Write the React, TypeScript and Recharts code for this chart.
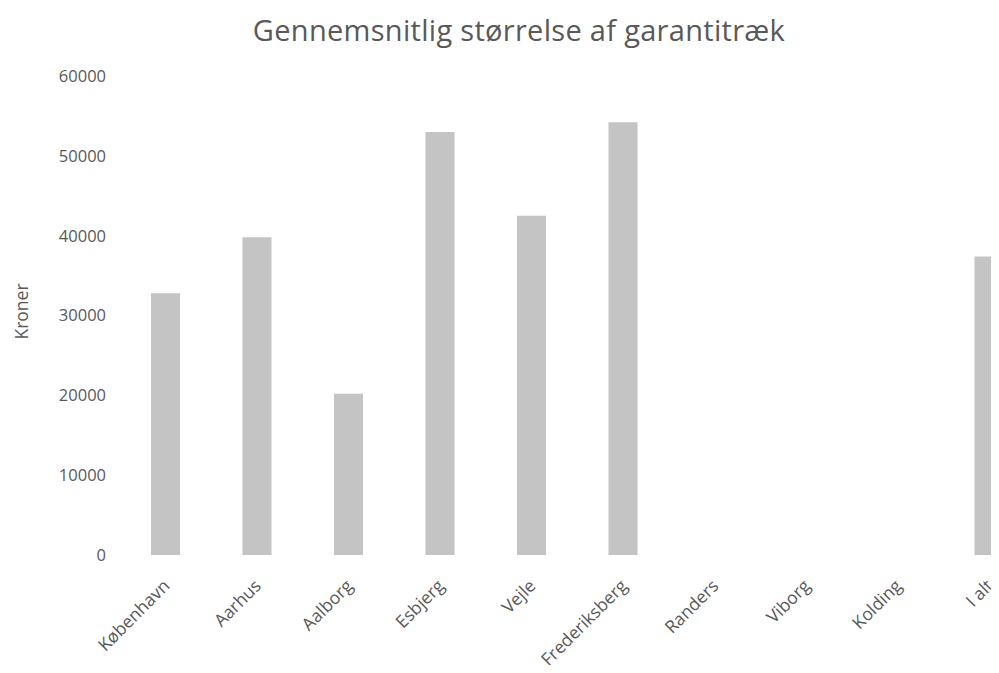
import { BarChart, Bar, XAxis, YAxis } from 'recharts';

const cities = ['København', 'Aarhus', 'Aalborg', 'Esbjerg', 'Vejle', 'Frederiksberg', 'Randers', 'Viborg', 'Kolding', 'I alt'];
const avgDraw: (number | null)[] = [32800, 39800, 20200, 53000, 42500, 54200, null, null, null, 37400];
const yTicks = [0, 10000, 20000, 30000, 40000, 50000, 60000];

const data = cities.map((name, i) => ({ name, value: avgDraw[i] }));

const font = '"Open Sans", sans-serif';
const grey = '#595959';

function CityTick({ x, y, payload }: any) {
  return (
    <g transform={`translate(${x + 5},${y + 30})`}>
      <text transform="rotate(-45)" textAnchor="end" fill={grey} fontSize={17.5} fontFamily={font}>
        {payload.value}
      </text>
    </g>
  );
}

export default function App() {
  return (
    <div style={{ position: 'relative', width: 991, height: 657, overflow: 'hidden' }}>
      <div
        style={{
          position: 'absolute', top: 2, left: 0, width: 1022, textAlign: 'center',
          fontFamily: font, fontSize: 29, color: grey, letterSpacing: 0.3,
        }}
      >
        Gennemsnitlig størrelse af garantitræk
      </div>
      <BarChart width={1040} height={657} data={data} margin={{ top: 68, right: 13, left: 0, bottom: 0 }}>
        <XAxis dataKey="name" height={110} axisLine={false} tickLine={false} tickSize={0} interval={0} tick={<CityTick />} />
        <YAxis
          width={112}
          domain={[0, 60000]}
          ticks={yTicks}
          axisLine={false}
          tickLine={false}
          tickSize={0}
          tickMargin={14}
          tick={{ fill: grey, fontSize: 16.5, fontFamily: font }}
          label={{ value: 'Kroner', angle: -90, position: 'center', dx: -42, dy: -4, fill: grey, fontSize: 17.5, fontFamily: font }}
        />
        <Bar dataKey="value" fill="#c4c4c4" barSize={29} isAnimationActive={false} />
      </BarChart>
    </div>
  );
}
